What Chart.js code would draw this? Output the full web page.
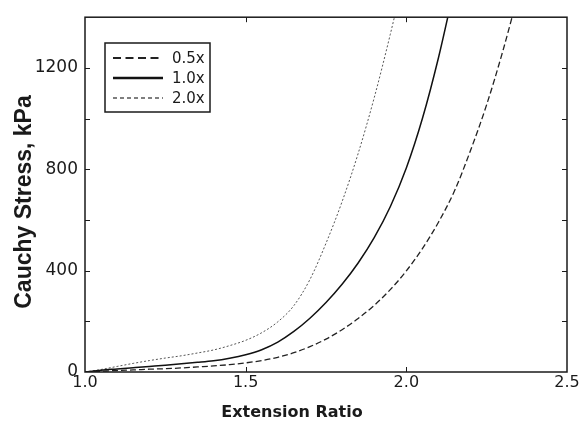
<!DOCTYPE html>
<html>
<head>
<meta charset="utf-8">
<script src="https://cdn.jsdelivr.net/npm/chart.js@4.4.1/dist/chart.umd.min.js"></script>
<style>
    body { margin: 0; background: #fff; }
    #wrap { width: 585px; height: 425px; }
</style>
</head>
<body>
<div id="wrap"><canvas id="stressChart" width="585" height="425"></canvas></div>
<script>
// extension ratio samples (x) shared by all three curves
const ratio = [1.00, 1.05, 1.10, 1.15, 1.20, 1.25, 1.30, 1.35, 1.40, 1.45, 1.50, 1.55, 1.60, 1.65,
               1.70, 1.75, 1.80, 1.85, 1.90, 1.95, 2.00, 2.05, 2.10, 2.15, 2.20, 2.25, 2.30, 2.35];

// cauchy stress, kPa
const stressHalf = [0, 3, 6, 8, 11, 13, 16, 20, 24, 29, 36, 45, 58, 76,
                    100, 130, 167, 211, 263, 325, 399, 487, 591, 715, 875, 1055, 1265, 1500];
const stressOne  = [0, 7, 12, 17, 22, 27, 33, 38, 44, 54, 68, 88, 118, 160,
                    212, 274, 346, 430, 530, 652, 805, 1000, 1240, 1520, null, null, null, null];
const stressTwo  = [0, 10, 22, 34, 45, 55, 64, 75, 87, 104, 125, 155, 198, 262,
                    365, 508, 672, 862, 1082, 1332, 1604, null, null, null, null, null, null, null];

const seriesLabels = ['0.5x', '1.0x', '2.0x'];
const yLabelTicks = [0, 400, 800, 1200];
const xTicks = [1.0, 1.5, 2.0, 2.5];
const xTitle = 'Extension Ratio';
const yTitle = 'Cauchy Stress, kPa';

Chart.defaults.font.family = 'DejaVu Sans';
Chart.defaults.color = '#1a1a1a';

// frame, inward tick marks, axis titles and the boxed legend
const framePlugin = {
    id: 'frame',
    afterDraw(chart) {
        const ctx = chart.ctx;
        const a = chart.chartArea;
        const xs = chart.scales.x;
        const ys = chart.scales.y;
        ctx.save();
        ctx.strokeStyle = '#1a1a1a';
        ctx.lineWidth = 1.5;
        ctx.strokeRect(a.left, a.top, a.right - a.left, a.bottom - a.top);

        ctx.lineWidth = 1;
        ctx.beginPath();
        for (let v = 200; v < ys.max; v += 200) {
            const y = Math.round(ys.getPixelForValue(v)) + 0.5;
            ctx.moveTo(a.left, y); ctx.lineTo(a.left + 5, y);
            ctx.moveTo(a.right, y); ctx.lineTo(a.right - 5, y);
        }
        [1.5, 2.0].forEach(v => {
            const x = Math.round(xs.getPixelForValue(v)) + 0.5;
            ctx.moveTo(x, a.bottom); ctx.lineTo(x, a.bottom - 5);
            ctx.moveTo(x, a.top); ctx.lineTo(x, a.top + 5);
        });
        ctx.stroke();

        // axis titles
        ctx.fillStyle = '#1a1a1a';
        ctx.textAlign = 'center';
        ctx.textBaseline = 'middle';
        ctx.font = 'bold 16px "DejaVu Sans"';
        ctx.fillText(xTitle, 292, 413);
        ctx.save();
        ctx.translate(25, 202);
        ctx.rotate(-Math.PI / 2);
        ctx.font = 'bold 23px "Liberation Sans"';
        ctx.fillText(yTitle, 0, 0);
        ctx.restore();

        // legend
        const lx = 105, ly = 43, lw = 105, lh = 69;
        ctx.fillStyle = '#fff';
        ctx.fillRect(lx, ly, lw, lh);
        ctx.lineWidth = 1.5;
        ctx.strokeStyle = '#1a1a1a';
        ctx.strokeRect(lx, ly, lw, lh);
        ctx.font = '15px "DejaVu Sans"';
        ctx.textAlign = 'left';
        ctx.textBaseline = 'middle';
        ctx.fillStyle = '#1a1a1a';
        chart.data.datasets.forEach((ds, i) => {
            const y = ly + 15 + i * 20;
            ctx.beginPath();
            ctx.setLineDash(ds.legendDash);
            ctx.lineWidth = ds.legendWidth;
            ctx.strokeStyle = ds.borderColor;
            ctx.moveTo(lx + 8, y);
            ctx.lineTo(lx + 58, y);
            ctx.stroke();
            ctx.setLineDash([]);
            ctx.fillText(ds.label, lx + 67, y + 1);
        });
        ctx.restore();
    }
};

new Chart(document.getElementById('stressChart'), {
    type: 'line',
    data: {
        labels: ratio,
        datasets: [
            { label: seriesLabels[0], data: stressHalf, borderColor: '#222', borderWidth: 1.3,
              borderDash: [6, 3], legendDash: [8, 4.5], legendWidth: 2 },
            { label: seriesLabels[1], data: stressOne, borderColor: '#111', borderWidth: 1.5,
              borderDash: [], legendDash: [], legendWidth: 2.5 },
            { label: seriesLabels[2], data: stressTwo, borderColor: '#555', borderWidth: 1,
              borderDash: [2, 2], legendDash: [4, 3], legendWidth: 1.5 }
        ]
    },
    options: {
        responsive: false,
        animation: false,
        devicePixelRatio: 1,
        layout: { padding: { top: 8, right: 18, left: 0, bottom: 0 } },
        elements: {
            point: { radius: 0 },
            line: { cubicInterpolationMode: 'monotone', fill: false }
        },
        plugins: {
            legend: { display: false },
            tooltip: { enabled: false }
        },
        scales: {
            x: {
                type: 'linear',
                min: 1.0,
                max: 2.5,
                afterFit: s => { s.height = 53; },
                afterBuildTicks: s => { s.ticks = xTicks.map(v => ({ value: v })); },
                grid: { display: false, drawTicks: false },
                border: { display: false },
                ticks: {
                    padding: 1,
                    font: { size: 16 },
                    maxRotation: 0,
                    callback: v => v.toFixed(1)
                }
            },
            y: {
                min: 0,
                max: 1400,
                afterFit: s => { s.width = 85; },
                afterBuildTicks: s => { s.ticks = yLabelTicks.map(v => ({ value: v })); },
                grid: { display: false, drawTicks: false },
                border: { display: false },
                ticks: {
                    padding: 7,
                    font: { size: 17 },
                    callback: v => String(v)
                }
            }
        }
    },
    plugins: [framePlugin]
});
</script>
</body>
</html>
